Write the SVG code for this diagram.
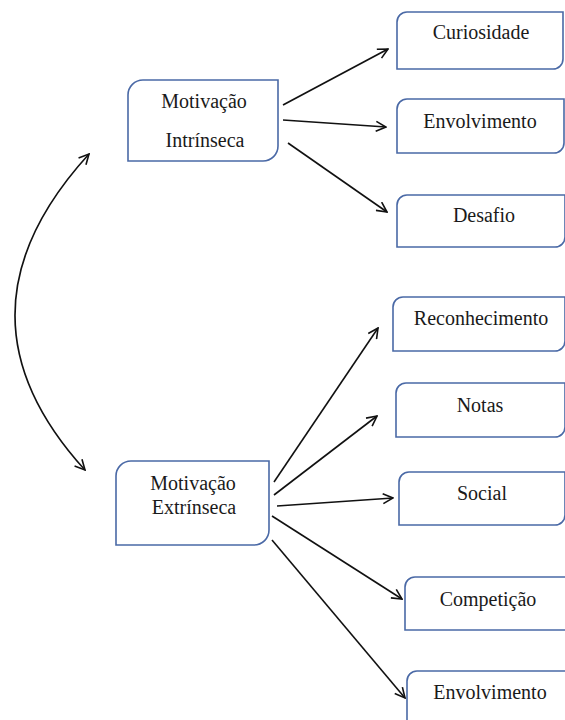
<svg xmlns="http://www.w3.org/2000/svg" width="565" height="720" viewBox="0 0 565 720">
<style>
.box{fill:#fff;stroke:#4a69a6;stroke-width:1.6}
.t{font-family:"Liberation Serif","Times New Roman",serif;font-size:20px;fill:#1a1a1a;text-anchor:middle}
.c{fill:none;stroke:#111;stroke-width:1.6;marker-end:url(#ah)}
</style>
<defs>
<marker id="ah" viewBox="0 0 12 12" refX="11" refY="6" markerWidth="12" markerHeight="12" markerUnits="userSpaceOnUse" orient="auto-start-reverse">
<path d="M1,1 L11,6 L1,11" fill="none" stroke="#111" stroke-width="1.6"/>
</marker>
</defs>
<rect width="565" height="720" fill="#fff"/>
<g id="connectors">
<path class="c" d="M89,154 Q-57,314 85,470" marker-start="url(#ah)"/>
<line class="c" x1="283" y1="105" x2="388" y2="49"/>
<line class="c" x1="283" y1="120" x2="386" y2="127"/>
<line class="c" x1="288" y1="143" x2="387" y2="212"/>
<line class="c" x1="274" y1="482" x2="378" y2="328"/>
<line class="c" x1="274" y1="495" x2="377" y2="416"/>
<line class="c" x1="277" y1="506" x2="393" y2="498"/>
<line class="c" x1="272" y1="516" x2="402" y2="599"/>
<line class="c" x1="272" y1="540" x2="405" y2="698"/>
</g>
<g id="intrinseca">
<path class="box" d="M143,80 H278 V146 A15,15 0 0 1 263,161 H128 V95 A15,15 0 0 1 143,80 Z"/>
<text class="t" x="204" y="108">Motivação</text>
<text class="t" x="205" y="147">Intrínseca</text>
</g>
<g id="curiosidade">
<path class="box" d="M407,12 H563 V59 A10,10 0 0 1 553,69 H397 V22 A10,10 0 0 1 407,12 Z"/>
<text class="t" x="481" y="39">Curiosidade</text>
</g>
<g id="envolvimento1">
<path class="box" d="M407,99 H564 V143 A10,10 0 0 1 554,153 H397 V109 A10,10 0 0 1 407,99 Z"/>
<text class="t" x="480" y="128">Envolvimento</text>
</g>
<g id="desafio">
<path class="box" d="M407,195 H565 V237 A10,10 0 0 1 555,247 H397 V205 A10,10 0 0 1 407,195 Z"/>
<text class="t" x="484" y="222">Desafio</text>
</g>
<g id="extrinseca">
<path class="box" d="M131,461 H269 V530 A15,15 0 0 1 254,545 H116 V476 A15,15 0 0 1 131,461 Z"/>
<text class="t" x="193" y="490">Motivação</text>
<text class="t" x="194" y="514">Extrínseca</text>
</g>
<g id="reconhecimento">
<path class="box" d="M403,297 H565 V341 A10,10 0 0 1 555,351 H393 V307 A10,10 0 0 1 403,297 Z"/>
<text class="t" x="481" y="325">Reconhecimento</text>
</g>
<g id="notas">
<path class="box" d="M406,383 H565 V427 A10,10 0 0 1 555,437 H396 V393 A10,10 0 0 1 406,383 Z"/>
<text class="t" x="480" y="412">Notas</text>
</g>
<g id="social">
<path class="box" d="M409,472 H565 V515 A10,10 0 0 1 555,525 H399 V482 A10,10 0 0 1 409,472 Z"/>
<text class="t" x="482" y="500">Social</text>
</g>
<g id="competicao">
<path class="box" d="M415,577 H575 V620 A10,10 0 0 1 565,630 H405 V587 A10,10 0 0 1 415,577 Z"/>
<text class="t" x="488" y="606">Competição</text>
</g>
<g id="envolvimento2">
<path class="box" d="M417,671 H575 V740 H407 V681 A10,10 0 0 1 417,671 Z"/>
<text class="t" x="490" y="699">Envolvimento</text>
</g>
</svg>
